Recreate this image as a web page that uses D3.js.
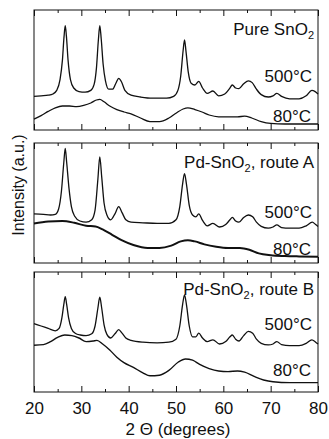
<!DOCTYPE html>
<html>
<head>
<meta charset="utf-8">
<script src="https://cdn.jsdelivr.net/npm/d3@7"></script>
<style>
  body { margin: 0; background: #fff; }
  svg { display: block; }
  text { font-family: Arial, "Liberation Sans", sans-serif; fill: #111; }
</style>
</head>
<body>
<script>
// 2-theta axis
var xTicks = [20, 30, 40, 50, 60, 70, 80];
var xMinorTicks = [25, 35, 45, 55, 65, 75];

// panel labels: [text, subscript, rest]
var panelLabels = [["Pure SnO", "2", ""], ["Pd-SnO", "2", ", route A"], ["Pd-SnO", "2", ", route B"]];
var tempLabels = ["500\u00B0C", "80\u00B0C"];

// intensities (a.u., 0-100 per panel) as [2theta, I]
var pure500 = [[20,28],[21.5,28.5],[23,29],[24,30],[24.8,33],[25.5,42],[26,58],[26.35,78],[26.6,87],[26.85,78],[27.2,58],[27.7,42],[28.4,35],[29.5,32],[30.8,31.5],[32,33],[32.7,38],[33.2,52],[33.6,75],[33.9,87],[34.2,76],[34.6,55],[35.1,41],[35.8,34],[36.6,34],[37.3,39],[37.9,43],[38.5,40],[39.2,33],[40.5,29],[42.5,27.5],[45,26.5],[48,26.5],[49.5,28],[50.4,33],[51,45],[51.5,66],[51.8,75],[52.1,66],[52.6,48],[53.2,39],[54,37.5],[54.8,40.5],[55.6,35],[56.6,30.5],[57.8,32.5],[59,28.5],[60.3,30],[61.3,34.5],[61.9,37.5],[62.6,35],[63.3,34.5],[64.3,38.5],[65.3,41],[66.1,39.5],[67,34],[68,29.5],[69.5,27.5],[70.5,28.5],[71.3,30.5],[72.3,28],[74,26],[76,26],[77.5,28.5],[78.7,33],[79.4,32],[80,30]];
var pure80 = [[20,9],[21.5,12],[23,15.5],[24.5,18.5],[26,20],[27.5,20],[29,19.5],[30.5,20.5],[32,22.5],[33.2,25],[33.9,25.5],[34.8,23.5],[36,20],[37.5,17],[39,15],[40.5,13.5],[42.5,10],[44.5,7],[46.5,7],[48.5,10],[50,14],[51.5,17.5],[52.5,18.5],[54,17],[55.5,15],[57,12.5],[59,11],[61,11],[63,11],[64.5,11.5],[66,10],[68,7],[70,5.5],[73,5],[76,5],[80,5]];
var routeA500 = [[20,41],[22,40.5],[23.5,40],[24.5,40.5],[25.2,45],[25.8,60],[26.3,84],[26.6,95.5],[26.9,84],[27.4,62],[27.9,47],[28.6,39],[29.7,35],[31,34],[32.2,36],[32.9,44],[33.5,70],[33.9,88.5],[34.3,72],[34.8,50],[35.4,40],[36.2,36],[37.1,41],[37.9,47],[38.6,42],[39.4,36],[40.5,34],[43,33.5],[46,33],[48.5,33],[50,36],[50.8,47],[51.4,66],[51.8,74.5],[52.2,66],[52.8,48],[53.5,40],[54.2,38.5],[54.8,41],[55.6,35.5],[56.6,31],[57.8,33],[59.2,30],[60.5,32],[61.4,36],[61.9,38],[62.6,35],[63.3,34],[64.3,38],[65.3,40],[66.2,38.5],[67,34],[68,30.5],[69.5,29],[70.5,30],[71.3,31.7],[72.3,29.5],[74,29],[76,29],[77.5,31],[78.8,34],[79.5,32],[80,30.5]];
var routeA80 = [[20,33],[23,34.5],[26,35],[28.5,33.5],[31,31],[33,30.5],[34.5,28],[36.5,23.5],[38.5,19],[41,15],[44,12.5],[46.5,12.5],[49,14.5],[51,18],[52.5,19],[54,18],[56,15.5],[58.5,13.5],[61,12.5],[63.5,12.5],[65.5,11],[67.5,8],[70,6.5],[73,5.8],[76,5.5],[80,5.3]];
var routeB500 = [[20,57],[21.5,55],[23,53],[24.5,51],[25.3,53],[25.9,62],[26.3,73],[26.6,79.5],[26.9,73],[27.3,62],[27.9,53],[28.7,49],[29.8,47.5],[31,47],[32.2,48.5],[32.9,55],[33.5,70],[33.9,79],[34.3,70],[34.8,56],[35.4,48],[36.2,45],[37.1,48.5],[37.9,52],[38.6,49],[39.4,45],[40.5,43],[43,41.5],[46,41],[48.5,41.5],[50,44],[50.8,55],[51.4,73],[51.8,81],[52.2,73],[52.8,55],[53.5,46],[54.2,46],[54.8,49],[55.6,45],[56.6,42],[57.8,43.5],[59.2,40],[60.5,42],[61.4,46],[61.9,47.5],[62.6,44],[63.3,42.5],[64.3,47],[65.3,50.5],[66.2,49],[67,44],[68,40.5],[69.5,39.2],[70.5,40],[71.3,42],[72.3,39.5],[74,38.6],[76,38.6],[77.5,40.5],[78.7,43.5],[79.5,41.5],[80,40]];
var routeB80 = [[20,39],[22,39.5],[23.5,42],[25,45.5],[26.5,47.5],[28,47],[29.5,45],[31,42],[32.5,42.5],[33.3,43],[34.5,40],[36,35],[37.5,29],[39,24.5],[41,20.5],[43,16],[44.5,13.5],[46.5,14],[48.5,18],[50.5,25],[52,27.5],[53.5,26.5],[55,23],[57,19.5],[59,17.5],[61,17],[63,17.5],[64.5,16.5],[66.5,13],[68.5,10],[70.5,8.5],[74,7.8],[80,7.8]];

var series = [[pure500, pure80], [routeA500, routeA80], [routeB500, routeB80]];

var width = 329, height = 439;
var panelTop = [10, 143, 272], panelH = 120;
// label baselines, offset from panel top
var nameY = [25, 25, 23], hotY = [72, 75, 58], coldY = [112, 112, 104];
var strokeW = [[1.3, 1.3], [1.3, 2], [1.3, 1.4]];

var x = d3.scaleLinear().domain([20, 80]).range([34, 318]);

var svg = d3.select("body").append("svg")
    .attr("width", width)
    .attr("height", height);

series.forEach(function(pair, i) {
  var top = panelTop[i], bottom = top + panelH;
  var y = d3.scaleLinear().domain([0, 100]).range([bottom, top]);
  var g = svg.append("g");

  var line = d3.line()
      .x(function(d) { return x(d[0]); })
      .y(function(d) { return y(d[1]); })
      .curve(d3.curveMonotoneX);

  pair.forEach(function(data, j) {
    g.append("path")
        .datum(data)
        .attr("fill", "none")
        .attr("stroke", "#111")
        .attr("stroke-width", strokeW[i][j])
        .attr("stroke-linejoin", "round")
        .attr("d", line);
  });

  // inward ticks, top and bottom
  var last = i == series.length - 1;
  var axB = g.append("g")
      .attr("transform", "translate(0," + bottom + ")")
      .call(d3.axisBottom(x).tickValues(xTicks).tickSizeInner(-6).tickSizeOuter(0)
        .tickPadding(10).tickFormat(last ? d3.format("d") : function() { return ""; }));
  g.append("g")
      .attr("transform", "translate(0," + bottom + ")")
      .call(d3.axisBottom(x).tickValues(xMinorTicks).tickSizeInner(-3).tickSizeOuter(0).tickFormat(""));
  g.append("g")
      .attr("transform", "translate(0," + top + ")")
      .call(d3.axisTop(x).tickValues(xTicks).tickSizeInner(-6).tickSizeOuter(0).tickFormat(""));
  g.append("g")
      .attr("transform", "translate(0," + top + ")")
      .call(d3.axisTop(x).tickValues(xMinorTicks).tickSizeInner(-3).tickSizeOuter(0).tickFormat(""));
  g.selectAll(".domain").remove();
  g.selectAll(".tick line").attr("stroke", "#111");
  axB.attr("font-family", null).attr("font-size", null);
  axB.selectAll("text").style("font-size", "17px").attr("fill", "#111");

  g.append("rect")
      .attr("x", x(20)).attr("y", top)
      .attr("width", x(80) - x(20)).attr("height", panelH)
      .attr("fill", "none").attr("stroke", "#111").attr("stroke-width", 1);

  var lab = panelLabels[i];
  var t = g.append("text")
      .attr("x", 314).attr("y", top + nameY[i])
      .attr("text-anchor", "end")
      .style("font-size", "17px");
  t.append("tspan").text(lab[0]);
  t.append("tspan").attr("dy", 4).style("font-size", "11px").text(lab[1]);
  if (lab[2]) t.append("tspan").attr("dy", -4).text(lab[2]);

  g.append("text").attr("x", 312).attr("y", top + hotY[i])
      .attr("text-anchor", "end").style("font-size", "17px").text(tempLabels[0]);
  g.append("text").attr("x", 311).attr("y", top + coldY[i])
      .attr("text-anchor", "end").style("font-size", "17px").text(tempLabels[1]);
});

svg.append("text")
    .attr("x", 178).attr("y", 435)
    .attr("text-anchor", "middle")
    .style("font-size", "17px")
    .text("2 \u0398 (degrees)");

svg.append("text")
    .attr("transform", "translate(24,185) rotate(-90)")
    .attr("text-anchor", "middle")
    .style("font-size", "16px")
    .text("Intensity (a.u.)");
</script>
</body>
</html>
